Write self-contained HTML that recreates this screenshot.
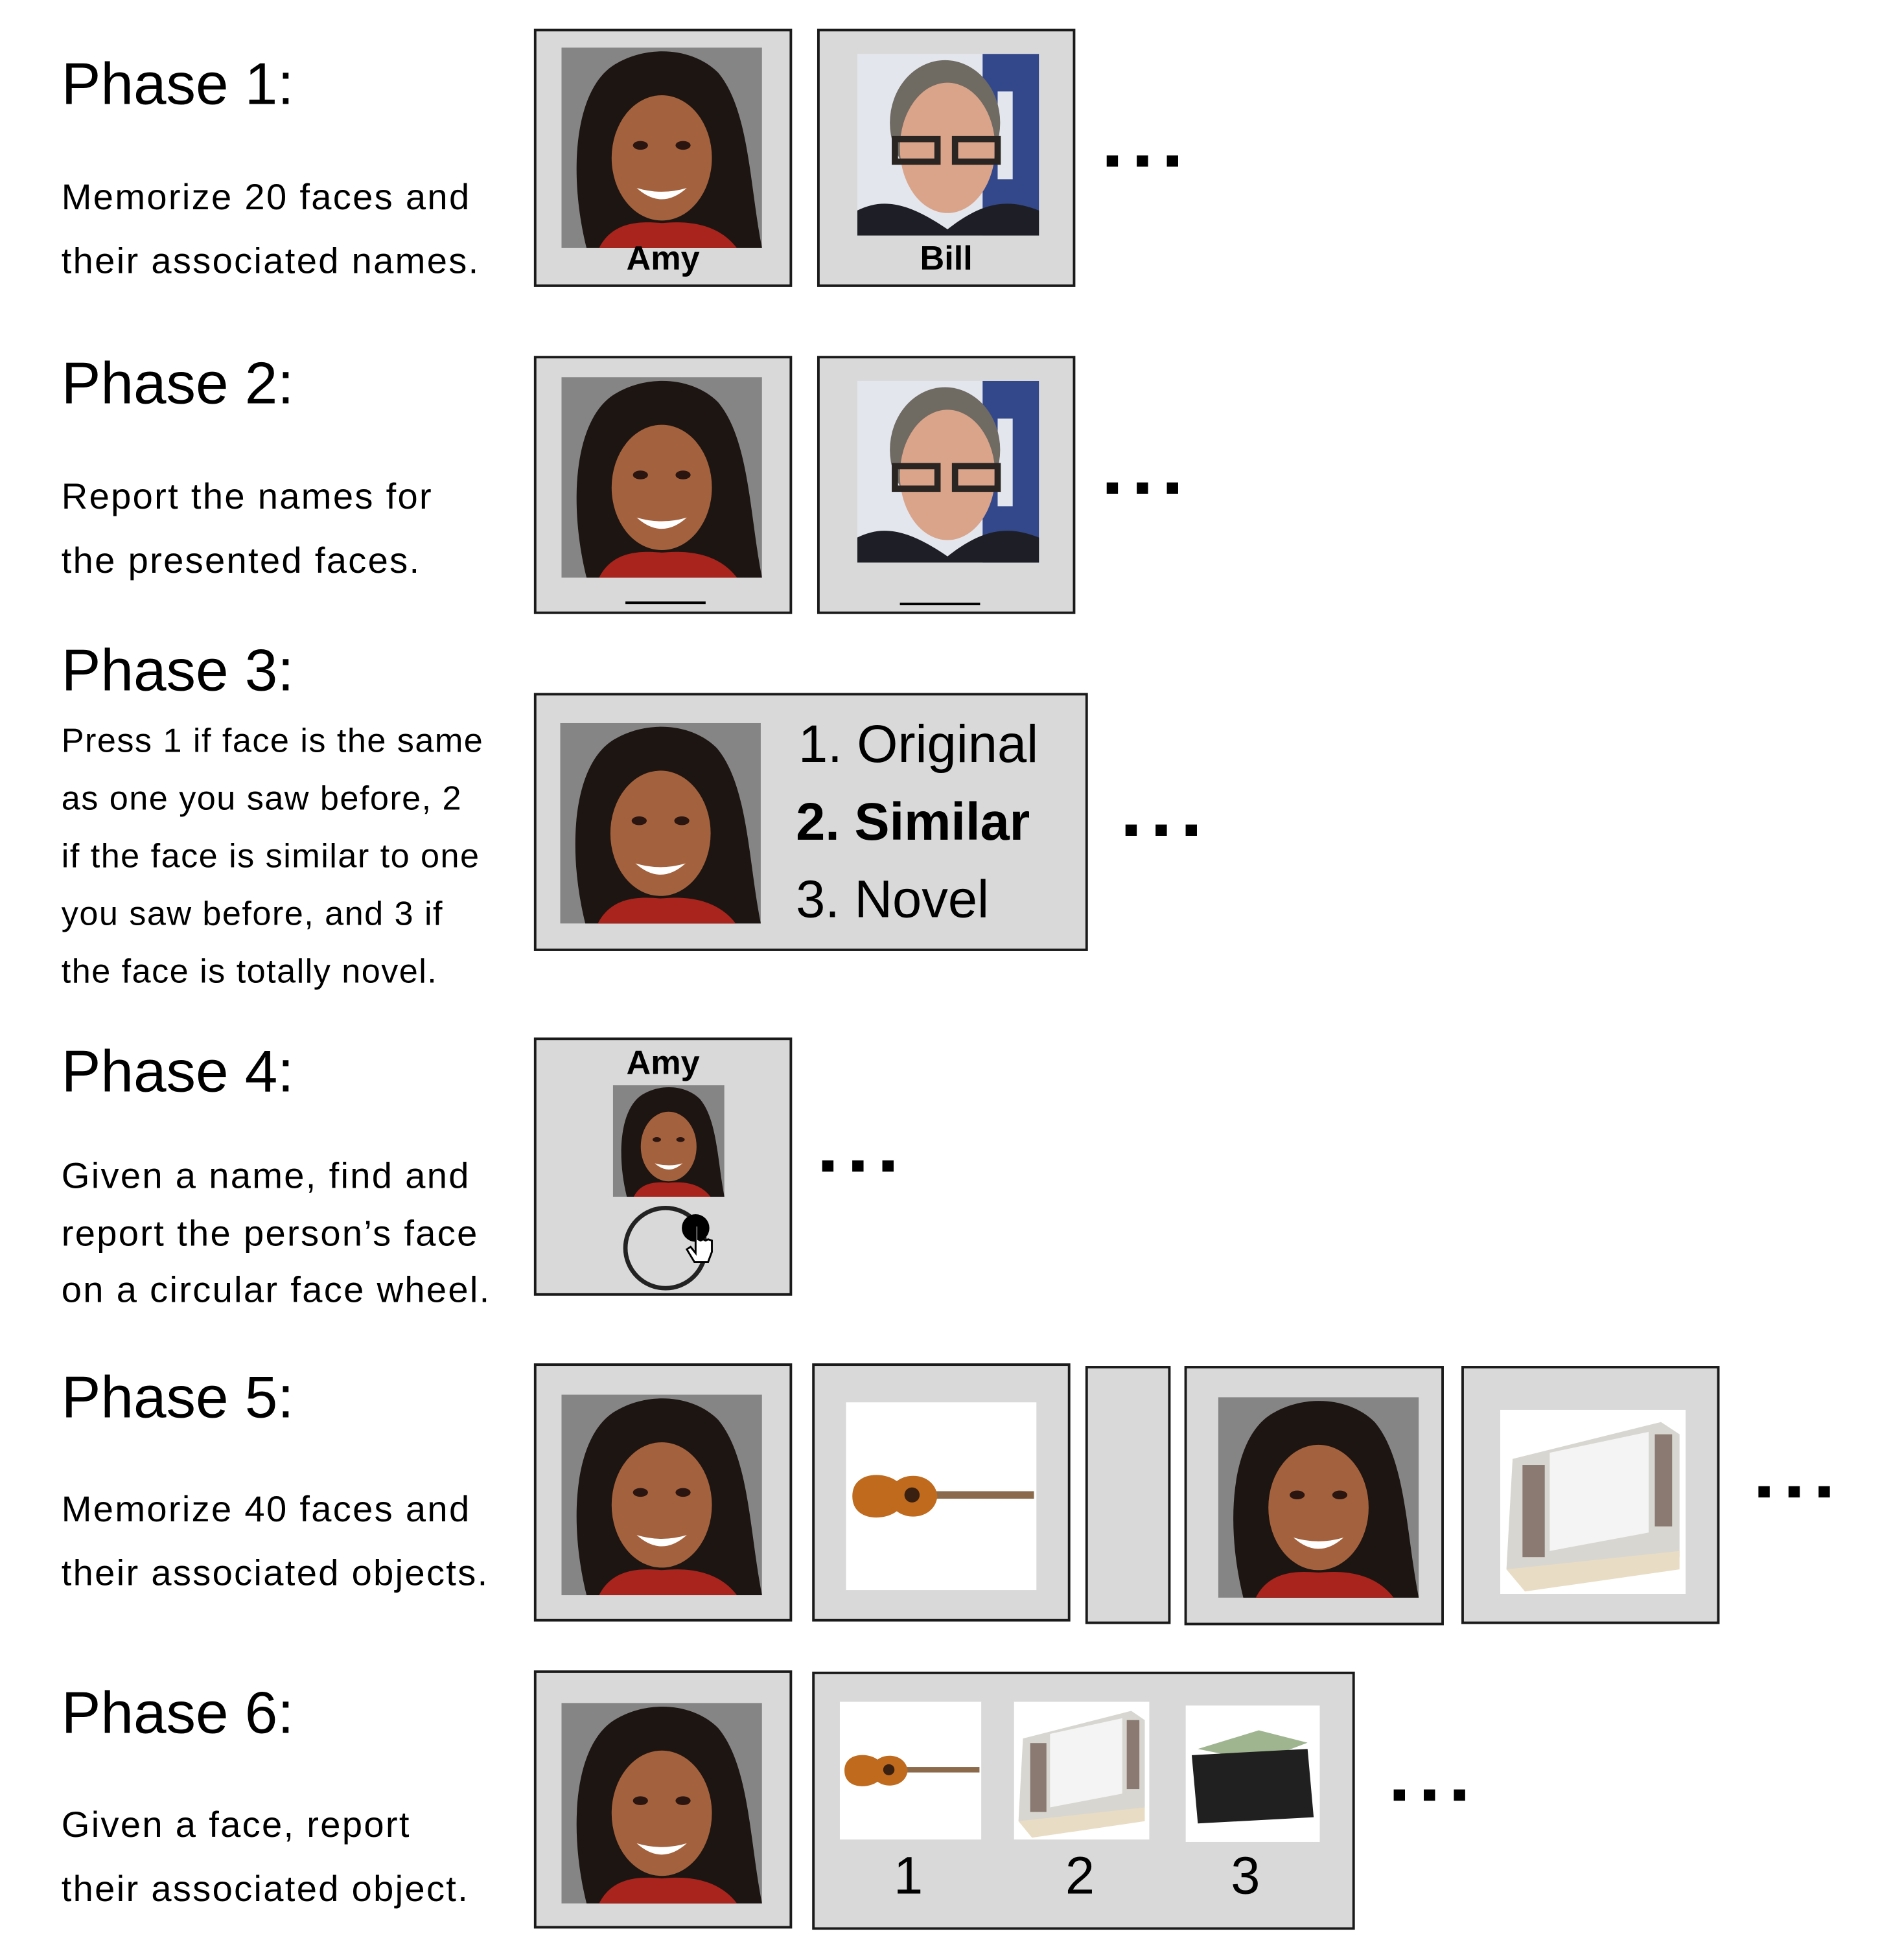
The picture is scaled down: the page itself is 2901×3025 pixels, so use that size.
<!DOCTYPE html>
<html><head><meta charset="utf-8">
<style>
html,body{margin:0;padding:0;background:#fff;}
body{width:2901px;height:3025px;overflow:hidden;position:relative;}
#wrap{position:absolute;left:0;top:0;width:1500px;height:1564px;transform:scale(1.934);transform-origin:0 0;font-family:"Liberation Sans",sans-serif;color:#000;}
.a{position:absolute;}
.title{position:absolute;left:49px;font-size:47px;line-height:1;white-space:nowrap;}
.desc{position:absolute;left:49px;font-size:29px;white-space:nowrap;letter-spacing:1.2px;}
.desc.s{font-size:27px;letter-spacing:0.75px;}
.box{position:absolute;background:#d9d9d9;border:2.5px solid #1a1a1a;box-sizing:border-box;}
.dots{position:absolute;width:57px;height:9px;}
.dots i{position:absolute;top:0;width:9px;height:9px;background:#000;}
.dots i:nth-child(1){left:0}.dots i:nth-child(2){left:24px}.dots i:nth-child(3){left:48px}
.name{position:absolute;font-weight:bold;font-size:27px;text-align:center;width:100%;}
svg.img{position:absolute;}
</style></head><body>
<svg width="0" height="0" style="position:absolute">
<defs>
<symbol id="amy" viewBox="0 0 160 160" preserveAspectRatio="none">
<rect width="160" height="160" fill="#858585"/>
<path d="M20 160 C5 100 10 30 45 12 C70 -2 105 0 125 20 C150 50 150 110 160 160Z" fill="#1d1512"/>
<path d="M30 160 C40 140 60 138 80 140 C100 138 125 140 140 160Z" fill="#a8241c"/>
<ellipse cx="80" cy="88" rx="40" ry="50" fill="#a4613d"/>
<ellipse cx="63" cy="78" rx="6" ry="3.5" fill="#2a1510"/>
<ellipse cx="97" cy="78" rx="6" ry="3.5" fill="#2a1510"/>
<path d="M60 112 Q80 130 100 112 Q80 118 60 112Z" fill="#fff"/>
</symbol>
<symbol id="bill" viewBox="0 0 145 145" preserveAspectRatio="none">
<rect width="145" height="145" fill="#e4e6ee"/>
<rect x="100" y="0" width="45" height="145" fill="#33488a"/>
<rect x="112" y="30" width="12" height="70" fill="#e4e6ee"/>
<ellipse cx="70" cy="55" rx="44" ry="50" fill="#6f6a62"/>
<ellipse cx="72" cy="75" rx="38" ry="52" fill="#d9a48a"/>
<path d="M30 68 h34 v18 h-34z M78 68 h34 v18 h-34z" fill="none" stroke="#2a2522" stroke-width="5"/>
<path d="M0 145 L0 125 C20 115 40 118 72 140 C100 118 120 115 145 125 L145 145Z" fill="#1e1f26"/>
</symbol>
<symbol id="guitar" viewBox="0 0 150 150" preserveAspectRatio="none">
<rect width="150" height="150" fill="#fff"/>
<rect x="60" y="71" width="88" height="6" fill="#8a6a4a"/>
<path d="M5 75 C5 55 30 55 40 63 C50 55 70 58 72 75 C70 92 50 95 40 87 C30 95 5 95 5 75Z" fill="#c06a1e"/>
<circle cx="52" cy="74" r="6" fill="#3a2010"/>
</symbol>
<symbol id="viewer" viewBox="0 0 150 150" preserveAspectRatio="none">
<rect width="150" height="150" fill="#fff"/>
<path d="M10 40 L130 10 L145 20 L145 120 L20 140 L5 130Z" fill="#d8d6d0"/>
<path d="M40 35 L120 18 L120 100 L40 115Z" fill="#f4f4f4"/>
<rect x="18" y="45" width="18" height="75" fill="#8a7a72"/>
<rect x="125" y="20" width="14" height="75" fill="#8a7a72"/>
<path d="M5 130 L145 115 L145 130 L20 148Z" fill="#e9dcc4"/>
</symbol>
<symbol id="wallet" viewBox="0 0 110 110" preserveAspectRatio="none">
<rect width="110" height="110" fill="#fff"/>
<path d="M10 35 L60 20 L100 30 L60 45Z" fill="#9fb590"/>
<path d="M5 40 L100 35 L105 90 L10 95Z" fill="#202020"/>
</symbol>
</defs>
</svg>
<div id="wrap">

<!-- Phase 1 -->
<div class="title" style="top:43px">Phase 1:</div>
<div class="desc" style="top:142px">Memorize 20 faces and</div>
<div class="desc" style="top:193px">their associated names.</div>
<div class="box" style="left:426px;top:23px;width:206px;height:206px">
<svg class="img" style="left:20px;top:13px" width="160" height="160"><use href="#amy"/></svg>
<div class="name" style="top:166px">Amy</div></div>
<div class="box" style="left:652px;top:23px;width:206px;height:206px">
<svg class="img" style="left:30px;top:18px" width="145" height="145"><use href="#bill"/></svg>
<div class="name" style="top:166px">Bill</div></div>
<div class="dots" style="left:883px;top:124px"><i></i><i></i><i></i></div>

<!-- Phase 2 -->
<div class="title" style="top:282px">Phase 2:</div>
<div class="desc" style="top:381px">Report the names for</div>
<div class="desc" style="top:432px">the presented faces.</div>
<div class="box" style="left:426px;top:284px;width:206px;height:206px">
<svg class="img" style="left:20px;top:15px" width="160" height="160"><use href="#amy"/></svg>
<div class="a" style="left:71px;top:194px;width:64px;height:2px;background:#000"></div></div>
<div class="box" style="left:652px;top:284px;width:206px;height:206px">
<svg class="img" style="left:30px;top:18px" width="145" height="145"><use href="#bill"/></svg>
<div class="a" style="left:64px;top:195px;width:64px;height:2px;background:#000"></div></div>
<div class="dots" style="left:883px;top:385px"><i></i><i></i><i></i></div>

<!-- Phase 3 -->
<div class="title" style="top:511px">Phase 3:</div>
<div class="desc s" style="top:576px">Press 1 if face is the same</div>
<div class="desc s" style="top:622px">as one you saw before, 2</div>
<div class="desc s" style="top:668px">if the face is similar to one</div>
<div class="desc s" style="top:714px">you saw before, and 3 if</div>
<div class="desc s" style="top:760px">the face is totally novel.</div>
<div class="box" style="left:426px;top:553px;width:442px;height:206px">
<svg class="img" style="left:19px;top:22px" width="160" height="160"><use href="#amy"/></svg>
<div class="a" style="left:209px;top:15px;font-size:42px">1. Original</div>
<div class="a" style="left:207px;top:77px;font-size:42px;font-weight:bold">2. Similar</div>
<div class="a" style="left:207px;top:139px;font-size:42px">3. Novel</div></div>
<div class="dots" style="left:898px;top:658px"><i></i><i></i><i></i></div>

<!-- Phase 4 -->
<div class="title" style="top:831px">Phase 4:</div>
<div class="desc" style="top:923px">Given a name, find and</div>
<div class="desc" style="top:969px">report the person’s face</div>
<div class="desc" style="top:1014px">on a circular face wheel.</div>
<div class="box" style="left:426px;top:828px;width:206px;height:206px">
<div class="name" style="top:3px">Amy</div>
<svg class="img" style="left:61px;top:36px" width="89" height="89"><use href="#amy"/></svg>
<svg class="img" style="left:60px;top:126px" width="100" height="80">
<circle cx="43" cy="40" r="32" fill="none" stroke="#222" stroke-width="3.5"/>
<circle cx="67" cy="24" r="11" fill="#000"/>
<path d="M67 22 v22 l-4 -5 l-3 2 l6 10 h11 l3 -8 v-9 l-3 -1 l-2 1 l-2 -1 l-2 1 l-2 -1 v-11 z" fill="#fff" stroke="#000" stroke-width="1.5"/>
</svg></div>
<div class="dots" style="left:656px;top:926px"><i></i><i></i><i></i></div>

<!-- Phase 5 -->
<div class="title" style="top:1091px">Phase 5:</div>
<div class="desc" style="top:1189px">Memorize 40 faces and</div>
<div class="desc" style="top:1240px">their associated objects.</div>
<div class="box" style="left:426px;top:1088px;width:206px;height:206px">
<svg class="img" style="left:20px;top:23px" width="160" height="160"><use href="#amy"/></svg></div>
<div class="box" style="left:648px;top:1088px;width:206px;height:206px">
<svg class="img" style="left:25px;top:29px" width="152" height="150"><use href="#guitar"/></svg></div>
<div class="box" style="left:866px;top:1090px;width:68px;height:206px"></div>
<div class="box" style="left:945px;top:1090px;width:207px;height:207px">
<svg class="img" style="left:25px;top:23px" width="160" height="160"><use href="#amy"/></svg></div>
<div class="box" style="left:1166px;top:1090px;width:206px;height:206px">
<svg class="img" style="left:29px;top:33px" width="148" height="147"><use href="#viewer"/></svg></div>
<div class="dots" style="left:1403px;top:1186px"><i></i><i></i><i></i></div>

<!-- Phase 6 -->
<div class="title" style="top:1343px">Phase 6:</div>
<div class="desc" style="top:1441px">Given a face, report</div>
<div class="desc" style="top:1492px">their associated object.</div>
<div class="box" style="left:426px;top:1333px;width:206px;height:206px">
<svg class="img" style="left:20px;top:24px" width="160" height="160"><use href="#amy"/></svg></div>
<div class="box" style="left:648px;top:1334px;width:433px;height:206px">
<svg class="img" style="left:20px;top:22px" width="113" height="110"><use href="#guitar"/></svg>
<svg class="img" style="left:159px;top:22px" width="108" height="110"><use href="#viewer"/></svg>
<svg class="img" style="left:296px;top:25px" width="107" height="109"><use href="#wallet"/></svg>
<div class="a" style="left:63px;top:137px;font-size:42px">1</div>
<div class="a" style="left:200px;top:137px;font-size:42px">2</div>
<div class="a" style="left:332px;top:137px;font-size:42px">3</div></div>
<div class="dots" style="left:1112px;top:1428px"><i></i><i></i><i></i></div>
</div>
</body></html>
